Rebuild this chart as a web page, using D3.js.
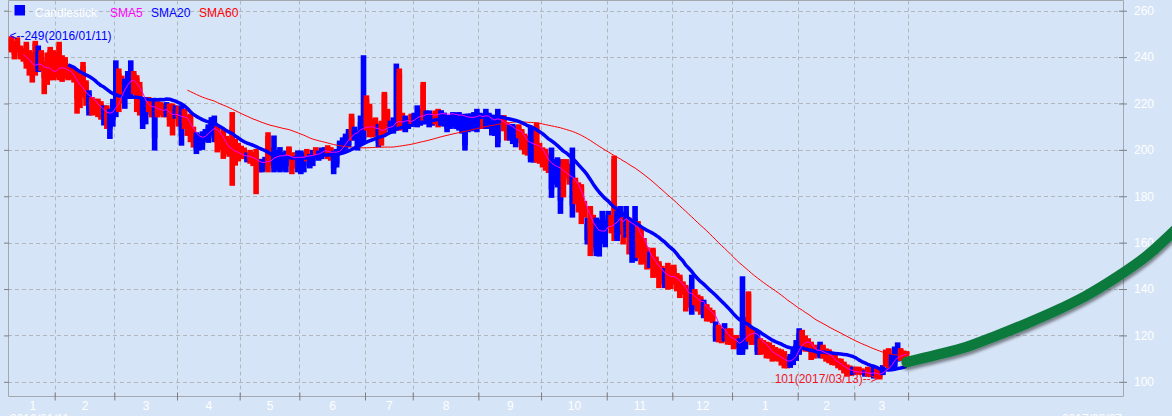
<!DOCTYPE html>
<html><head><meta charset="utf-8">
<script src="https://cdn.jsdelivr.net/npm/d3@7"></script>
<style>html,body{margin:0;padding:0;background:#d6e4f7;overflow:hidden}svg{display:block}</style>
</head><body><svg id="c" width="1172" height="416"></svg>
<script>
// ---------- data ----------
const monthLabels = ["1","2","3","4","5","6","7","8","9","10","11","12","1","2","3"];
const monthLengths = [15,20,21,21,20,22,16,22,21,22,22,20,22,19,18]; // trading days per month
const priceTicks = [100,120,140,160,180,200,220,240,260];
const startDate = "2016/01/11", minDate = "2017/03/13", endDate = "2017/03/27";
const legendNames = ["Candlestick","SMA5","SMA20","SMA60"];

const opens = [
248,246,247,244,243,245,242,241,246,235,
242,237,240,243,241,240,245,240,239,236,
235,234,233,230,236,229,217,222,221,221,
220,214,218,209,213,218,233,230,222,226,
225,233,231,227,212,215,222,221,205,220,
220,219,215,219,219,214,218,206,217,214,
214,208,200,201,202,204,205,207,205,210,
206,208,204,203,210,203,201,201,200,195,
199,198,199,196,191,193,206,200,192,194,
192,194,193,201,198,198,192,191,193,200,
193,195,201,196,197,198,201,201,192,194,
199,199,202,202,214,205,201,204,205,222,
219,213,212,203,212,224,217,208,209,210,
233,215,208,210,215,211,211,212,228,212,
211,211,216,217,211,212,209,210,211,210,
210,209,202,209,210,210,209,211,213,210,
211,207,208,203,211.5,214,211,206,204,203,
210,208,205,205,196,198,210,201,200,199,
197,183,187,186,178,194,195,192,176,187,
185,184,177,161,174,170,156,157,160,161,
167,171,196,162,164,170,166,170,155,156,
168,165,160,157,149.5,157,153,151,149,141,
150,149,149,146,145,143,141,139,131,139,
137,136,129,133,131,130,119,124,122,118,
122,121,119,118,112,113,116,138,123,121,
113,118,117,117,116,115,114,114,113,113,
110,107,108,110,112,122,119,118,117,115,
115,111,115,114,113,111,111,110,109,108,
107,106,103,106,106,105.5,103,106,105,102,
105,105,103,113,114,106,107,109,114,113,113];

const highs = [
249,247,248.5,245,244,246.6,243,242,247,245,
243,238,242,244.4,243,242,246.6,240.8,240,237,
235.5,235,233.6,232,237.9,230,225.7,222.8,222,222.1,
221,219.2,219.2,217.7,222,238.6,235.1,232,230.7,234,
238.6,234,232.2,229.3,222,221,222.8,222,222,221,
220.6,220,220.6,220,220,219.2,219,219.2,217.7,215,
215.6,210,207.6,206.9,208,209,211,214.1,214.8,210.5,
207,209,206,205,216.3,204.7,203,201.8,201,198.9,
200,199,200.4,196.1,196.1,197,207.6,201,206.2,200,
201.2,199,199.7,201.5,198.5,199,199.7,199.7,198.9,200.4,
198.2,200,201.1,199.7,201,201.1,202,201.1,199.7,200.4,
204,205.4,207,209,215.6,210,208.3,214.8,240.8,223.5,
219.9,213.5,214,211.2,212.6,225,217.7,212.6,214,237.2,
235.1,216,214.8,213.3,215.6,216,219.2,217.7,229.3,217,
217,215.6,217,217.7,217,216,214.8,215,216.3,216,
216.3,215,214.8,215.6,215,216.3,217.7,216,213.3,217.7,
216,212.6,214,217.7,214.8,215,211.9,211,211.2,210.4,
211,209,207,206.2,210.4,209.9,211.8,203,201.1,200.5,
198,201,196,196.8,196,196,196,194,201,188,
186,185.2,178,170.8,175.8,172,170.8,170,173.7,170,
173.7,172,197.5,173.7,175.8,171,175.8,170.8,170,175.8,
169.3,166.4,162,158,156.3,157.8,154,152,150,149,
151.3,150,150.5,146.9,146.2,143.3,141.8,140,146.2,140,
137.6,136.9,135.4,133.5,132,131,126,124.6,123,125.3,
123,123.1,120,120.2,118.8,145.5,128,139,123.5,122,
121.7,118.8,118,117.3,117,115.9,115,114.4,114,113.2,
111,112,114.4,118,123.1,122.4,120,118.8,117.3,116,
115.9,117.3,116,114.4,114,111.6,112,110.1,110,108.7,
107.5,107,106.5,106.5,106.5,105.8,105,106.5,106,106.5,
106,105.8,107.2,113.9,114.5,112,115.2,117,114.5,113.5,113.2];

const lows = [
242,239,242,239,238,235,232,229,232,233.6,
234,224,228,230,230,231,230,229.3,230.7,230,
230.5,229,215.6,218,222.8,219,214.8,214.8,215,214.1,
213,210.5,209,204.7,210,214.1,216.3,220,217.7,222,
222.1,224,216.3,214.8,209,211,216.3,214,199.7,214,
214.8,214,214.1,210,206.2,213.4,210,201.8,209,206,
203.3,201,198.2,199.7,200,203.5,203,206.2,203.3,198.9,
200,196.1,198,197,184.5,193.2,195,196.1,196,194.6,
194,193,180.9,190.3,190.3,191,190.3,193,190.3,191,
190.3,191,190.3,197,189.5,192,190.3,189.5,190.3,195,
192,193,197.5,195.3,196,197.5,196,195.3,189.5,192.4,
198,198.2,200,201.1,204,204,199.7,202.5,202.5,208.3,
205.4,205.4,206,201.1,201.8,206.9,209.7,207.6,207,208.3,
208.3,209,207.6,209,210.4,210,209.7,210.4,212.6,211,
209.7,210.4,211,209.7,210.4,210,207.6,209,209.7,209,
208.3,207,199.7,207.6,208,208.3,207.6,209,209,209,
209,206.2,206,201.1,211.2,208,204,204,202.5,201.1,
205,200,198,197.5,194.6,194.5,194.5,194,192.4,191,
190,179.3,185,183.8,172.4,179.5,188,185,170.8,176.6,
173,168,170.8,159.2,154.2,158,154.2,154,159.4,158,
166.5,164,160.7,160.7,163.5,159.2,162.1,154.9,151.3,152,
153.4,150.5,151,148.4,149.1,144.8,145,140.4,142,140.4,
139.7,140,141.8,139,136.1,137.5,130.3,132,128.9,133,
130.3,128.9,127.4,126,126,125.3,117.3,117,116.6,117.3,
116,115.9,114,114.4,111.6,111.6,114,117.3,115.9,116,
111.6,111.6,112,110.1,110,108.7,109,108.7,107,105.8,
105.8,106,107.2,109,111.6,114.4,113,113,109.4,110,
110.8,110.1,110,108.7,108,107.2,107,105.8,105,103.6,
102.2,102.5,102.9,103.6,103,102.9,102.2,102.2,102,101.4,
101.5,101,102.9,106.5,105.8,105,106,108.7,109,110,110.8];

const closes = [
243,241,243,240,239,237,236,234,236,242,
236,231,232,235,236,235,238,233,234,232,
232,230,222,224,226,222,224,218,217,218,
216,218,212,215,220,226,226,228,229,231,
234,228,222,219,220,219,218,217,219,216,
217,216,219,213,211,218,214,216,212,209,
206,204,206,205,206,208,210,212,210,203,
202,200,201,200,199,197,198,197,197,198,
196,195,194,193,195,196,197,195,199,198,
198,197,197,198,195,196,198,197,198,197,
197,199,199,199,200,201,198,197,199,200,
203,204,206,208,207,209,207,212,211,210,
209,208,209,210,206,210,212,211,212,214,
212,211,213,213,212,215,216,216,214,215,
216,215,215,215,217,216,214,215,216,215,
215,214,213,214,214,215,216,215,211.5,216,
214,211,212,214,214,210,206,210,210,209,
207,203,201,200,205,204,201,198,195,193,
192,194,193,192,190,186,190,187,189,182,
178,175,172,168,166,163,165,164,167,166,
172,166,168,172,174,165,173,162,168,170,
160,157,155,152,155,149,148,146,145,147,
145,144,146,142,140,139,136,135,140,135,
133,131,134,128,129,127,124,120,119,123,
118,117,116,115,117,122,124,122,118,119,
120,115,114,113,112,111,111,110,109,108,
107,111,113,116,121,118,116,115,113,112,
112,116,112,110,110,108,108,107,106,105,
104,104,105,104,104,103.5,104.5,103,103,105,
103,102,106,108,109,110,112,113,111,111.5,112];

// forecast (green) line: trading-day index and price
const forecastIdx  = [300,310,320,330,340,350,360,370,380,390];
const forecastVals = [108.5,111.6,115.0,119.8,125.0,130.6,137.0,144.8,153.8,165.5];

// ---------- checks ----------
const N = d3.sum(monthLengths);
[opens,highs,lows,closes].forEach((a,k)=>{ if(a.length!==N) throw new Error("array "+k+" length "+a.length+" != "+N); });

// ---------- layout ----------
const W = 1172, H = 416;
const L = 8, R = 1123, T = 0.5, B = 396.5;
const FONT = "Arial, 'Liberation Sans', sans-serif";
const BG = "#d6e4f7";

const x = d3.scaleLinear().domain([0, N - 1]).range([11.4, 11.4 + 2.984 * (N - 1)]);
const y = d3.scaleLinear().domain([100, 260]).range([381.8, 10.7]);

const svg = d3.select("#c");
svg.append("rect").attr("width", W).attr("height", H).attr("fill", BG);

const defs = svg.append("defs");
const f = defs.append("filter").attr("id","sh").attr("x","-10%").attr("y","-30%").attr("width","130%").attr("height","180%");
f.append("feDropShadow").attr("dx",1).attr("dy",3).attr("stdDeviation",1.6).attr("flood-color","#000").attr("flood-opacity",0.45);

const cum = d3.cumsum(monthLengths);
const bounds = Array.from(cum, b => b - 0.5);
const starts = [0, ...Array.from(cum).slice(0, -1)];
const centers = starts.map((s, k) => (s + cum[k] - 1) / 2);

// grid
const grid = svg.append("g").attr("stroke", "#b2b6bd").attr("stroke-dasharray", "4,3").attr("stroke-width", 1);
grid.selectAll("line.h").data(priceTicks).join("line").attr("class","h")
  .attr("x1", L).attr("x2", R).attr("y1", d => Math.round(y(d)) + 0.5).attr("y2", d => Math.round(y(d)) + 0.5);
grid.selectAll("line.v").data(bounds).join("line").attr("class","v")
  .attr("x1", d => Math.round(x(d)) + 0.5).attr("x2", d => Math.round(x(d)) + 0.5).attr("y1", T).attr("y2", B);

// frame
const frame = svg.append("g").attr("stroke", "#a4a8ae").attr("stroke-width", 1).attr("fill", "none");
frame.append("path").attr("d", `M${L+0.5},${T}H${R+0.5}V${B}H${L+0.5}Z`);

// candles
const idx = d3.range(N);
const colorOf = i => closes[i] < opens[i] ? "#ff0000" : "#0000ff";
const CW = 5.6;
const cg = svg.append("g");
idx.forEach(i => {
  const g = cg.append("g").attr("fill", colorOf(i));
  g.append("rect").attr("x", x(i) - CW / 2).attr("width", CW)
    .attr("y", y(highs[i])).attr("height", Math.max(1, y(lows[i]) - y(highs[i])));
  const top = Math.max(opens[i], closes[i]), bot = Math.min(opens[i], closes[i]);
  g.append("rect").attr("x", x(i) - CW / 2).attr("width", CW)
    .attr("y", y(top)).attr("height", Math.max(1, y(bot) - y(top)));
});

// moving averages computed from closes
function sma(n) {
  return idx.filter(i => i >= n - 1).map(i => ({ i, v: d3.mean(closes.slice(i - n + 1, i + 1)) }));
}
const line = d3.line().x(d => x(d.i)).y(d => y(d.v));
const smaStyle = { 5: ["#ff00ff", 1], 20: ["#0000ff", 3.5], 60: ["#ff0000", 1] };
[60, 20, 5].forEach(n => {
  svg.append("path").datum(sma(n)).attr("fill", "none")
    .attr("stroke", smaStyle[n][0]).attr("stroke-width", smaStyle[n][1])
    .attr("stroke-linejoin", "round").attr("d", line);
});

// max / min annotations
const maxV = d3.max(highs), minV = d3.min(lows);
const iMax = highs.indexOf(maxV), iMin = lows.indexOf(minV);
svg.append("text").attr("x", x(iMax) - 2).attr("y", y(maxV) + 4)
  .attr("font-family", FONT).attr("font-size", 12).attr("fill", "#0000ff")
  .text(`<--${maxV}(${startDate})`);
svg.append("text").attr("x", x(iMin) - 2).attr("y", y(minV) + 4).attr("text-anchor", "end")
  .attr("font-family", FONT).attr("font-size", 12).attr("fill", "#f0141e")
  .text(`${minV}(${minDate})-->`);

// axes
const tickCol = "#7c7f85";
svg.append("g").attr("transform", `translate(0,${B - 4})`)
  .call(d3.axisBottom(x).tickValues(bounds).tickSize(8).tickFormat(""))
  .call(g => { g.select(".domain").remove(); g.selectAll("line").attr("stroke", tickCol); });
svg.append("g").attr("transform", `translate(0,${B})`)
  .call(d3.axisBottom(x).tickValues(centers).tickSize(0).tickPadding(5).tickFormat((d, k) => monthLabels[k]))
  .call(g => { g.select(".domain").remove();
    g.selectAll("text").attr("fill", "#ffffff").attr("font-size", 12).attr("font-family", FONT); });
svg.append("g").attr("transform", `translate(${R - 4},0)`)
  .call(d3.axisRight(y).tickValues(priceTicks).tickSize(8).tickPadding(7))
  .call(g => { g.select(".domain").remove(); g.selectAll("line").attr("stroke", tickCol);
    g.selectAll("text").attr("fill", "#ffffff").attr("font-size", 12).attr("font-family", FONT); });
svg.append("g").attr("transform", `translate(${L + 1},0)`)
  .call(d3.axisLeft(y).tickValues(priceTicks).tickSize(5).tickFormat(""))
  .call(g => { g.select(".domain").remove(); g.selectAll("line").attr("stroke", tickCol); });

// legend
const legendX = [35, 110, 151, 199];
const legendCol = ["#ffffff", "#ff00ff", "#0000ff", "#ff0000"];
svg.append("rect").attr("x", 14.5).attr("y", 5).attr("width", 10.5).attr("height", 10.5).attr("fill", "#0000ff");
svg.selectAll("text.leg").data(legendNames).join("text").attr("class", "leg")
  .attr("x", (d, k) => legendX[k]).attr("y", 16.5)
  .attr("font-family", FONT).attr("font-size", 12).attr("fill", (d, k) => legendCol[k]).text(d => d);

// bottom date labels (cut by the window edge, as in the reference)
svg.append("text").attr("x", 10).attr("y", 423).attr("font-family", FONT).attr("font-size", 12)
  .attr("fill", "#ffffff").text(startDate);
svg.append("text").attr("x", 1122).attr("y", 423).attr("text-anchor", "end").attr("font-family", FONT)
  .attr("font-size", 12).attr("fill", "#ffffff").text(endDate);

// forecast line
const fData = forecastIdx.map((d, k) => ({ i: d, v: forecastVals[k] }));
svg.append("path").datum(fData).attr("fill", "none").attr("stroke", "#0d7a3d")
  .attr("stroke-width", 10.5).attr("stroke-linecap", "round").attr("stroke-linejoin", "round")
  .attr("filter", "url(#sh)")
  .attr("d", d3.line().x(d => x(d.i)).y(d => y(d.v)).curve(d3.curveMonotoneX));
</script></body></html>
